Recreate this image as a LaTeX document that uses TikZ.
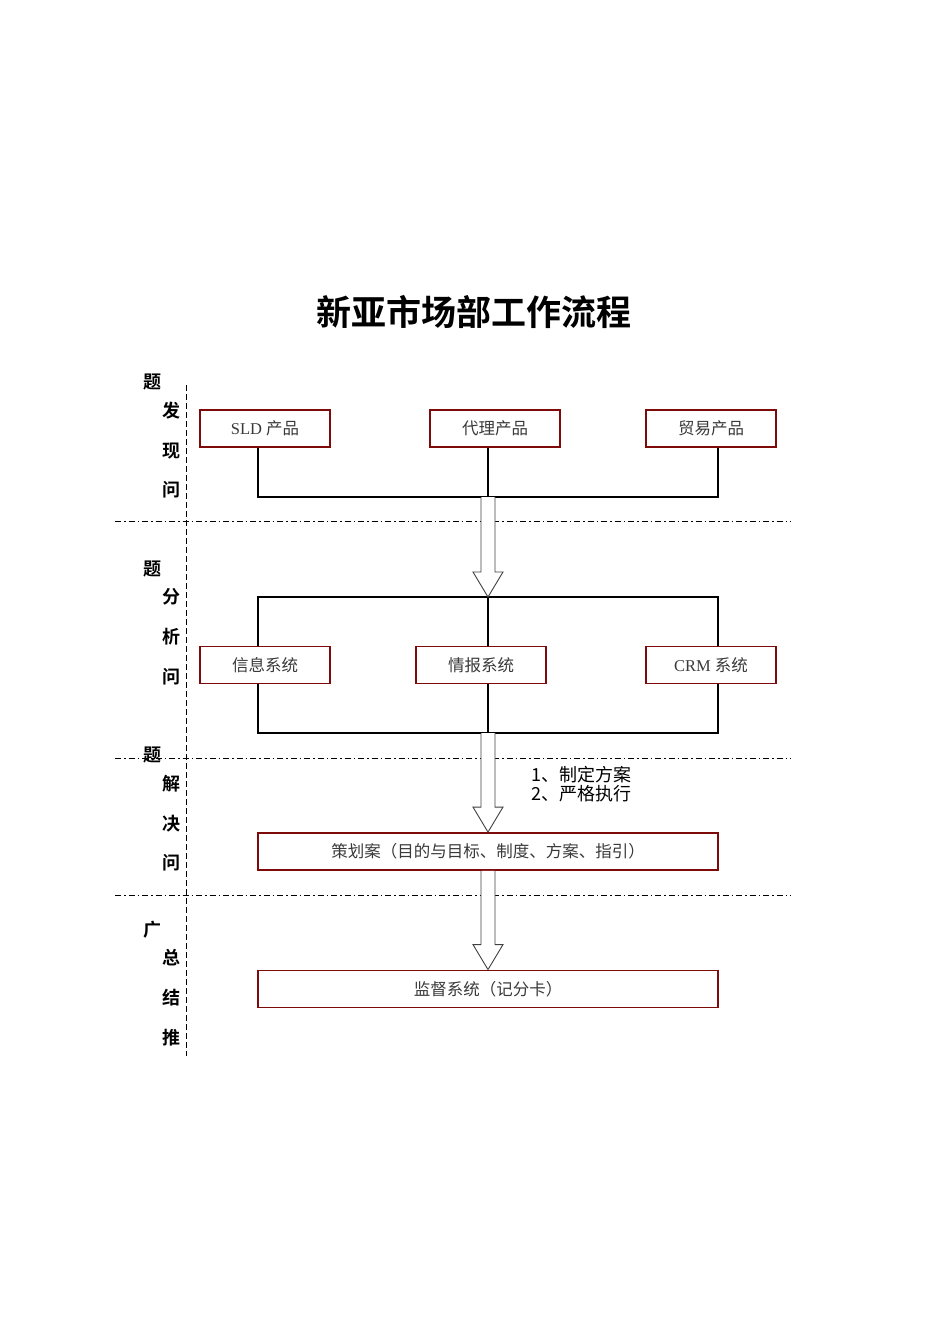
\documentclass[tikz,border=0pt]{standalone}
\usepackage{fontspec}
\setmainfont{Liberation Serif}
\newfontfamily\cjk{Noto Sans CJK SC}[BoldFont={Noto Sans CJK SC Bold}]
\usetikzlibrary{calc}
\definecolor{boxred}{HTML}{7F0A0A}
\definecolor{boxtext}{HTML}{3A3A3A}
\tikzset{
  pbox/.style={draw=boxred, line width=1.8pt, fill=white, minimum height=37pt, inner sep=0pt, text=boxtext, font=\fontsize{16.5}{18}\selectfont},
  conn/.style={line width=1.6pt, black},
  harrow/.style={draw=black!75, line width=0.9pt, fill=white},
  side/.style={font=\cjk\bfseries\fontsize{18}{20}\selectfont, inner sep=0pt},
  vdash/.style={line width=1pt, dash pattern=on 6pt off 3pt},
  hdash/.style={line width=1pt, dash pattern=on 6pt off 3pt on 1.5pt off 3pt}
}
\newcommand\hollowarrow[2]{%
  \draw[harrow] let \p1=(#1),\p2=(#2) in
    (\x1-7pt,\y1) -- (\x1-7pt,\y2+25pt) -- (\x1-15pt,\y2+25pt) -- (\x1,\y2)
    -- (\x1+15pt,\y2+25pt) -- (\x1+7pt,\y2+25pt) -- (\x1+7pt,\y1);}
\begin{document}
\begin{tikzpicture}[x=1pt,y=-1pt]
\useasboundingbox (0,0) rectangle (950,1344);
% title
\node[font=\cjk\bfseries\fontsize{35}{38}\selectfont] (title) at (474,312) {新亚市场部工作流程};
% guide lines
\coordinate (vt) at (186,385); \coordinate (vb) at (186,1056);
\draw[vdash] (vt) -- (vb);
\foreach \y/\n in {521/h1,758/h2,895/h3}{
  \coordinate (\n l) at (115,\y); \coordinate (\n r) at (791,\y);
  \draw[hdash] (\n l) -- (\n r);
}
% side labels
\foreach \t/\x/\y/\n in {题/152/382/s1,发/171/411/s2,现/171/451/s3,问/171/490/s4,
  题/152/569/s5,分/171/597/s6,析/171/637/s7,问/171/677/s8,
  题/152/755/s9,解/171/784/s10,决/171/824/s11,问/171/863/s12,
  广/152/930/s13,总/171/958/s14,结/171/998/s15,推/171/1038/s16}{
  \node[side] (\n) at (\x,\y) {\t};
}
% row 1 boxes
\node[pbox, minimum width=130pt] (b1) at (265,428.5) {SLD {\cjk 产品}};
\node[pbox, minimum width=130pt] (b2) at (495,428.5) {\cjk 代理产品};
\node[pbox, minimum width=130pt] (b3) at (711,428.5) {\cjk 贸易产品};
\coordinate (j1) at (258,497); \coordinate (j2) at (488,497); \coordinate (j3) at (718,497);
\draw[conn] (b1.south -| j1) -- (j1) -- (j3) -- (b3.south -| j3);
\draw[conn] (b2.south -| j2) -- (j2);
% row 2
\coordinate (k1) at (258,597); \coordinate (k2) at (488,597); \coordinate (k3) at (718,597);
\coordinate (m1) at (258,733); \coordinate (m2) at (488,733); \coordinate (m3) at (718,733);
\node[pbox, minimum width=130pt] (c1) at (265,665) {\cjk 信息系统};
\node[pbox, minimum width=130pt] (c2) at (481,665) {\cjk 情报系统};
\node[pbox, minimum width=130pt] (c3) at (711,665) {CRM {\cjk 系统}};
\draw[conn] (c1.north -| k1) -- (k1) -- (k3) -- (c3.north -| k3);
\draw[conn] (c1.south -| m1) -- (m1) -- (m3) -- (c3.south -| m3);
\draw[conn] (k2) -- (c2.north -| k2);
\draw[conn] (c2.south -| m2) -- (m2);
% row 3, 4
\node[pbox, minimum width=460pt] (d) at (488,851.5) {\cjk 策划案（目的与目标、制度、方案、指引）};
\node[pbox, minimum width=460pt] (e) at (488,989) {\cjk 监督系统（记分卡）};
% arrows
\hollowarrow{j2}{k2}
\hollowarrow{m2}{d.north}
\hollowarrow{d.south}{e.north}
% note
\node[font=\cjk\fontsize{18}{19.5}\selectfont, align=left, anchor=center, inner sep=0pt] (note) at (581,784) {1、制定方案\\2、严格执行};
\end{tikzpicture}
\end{document}
